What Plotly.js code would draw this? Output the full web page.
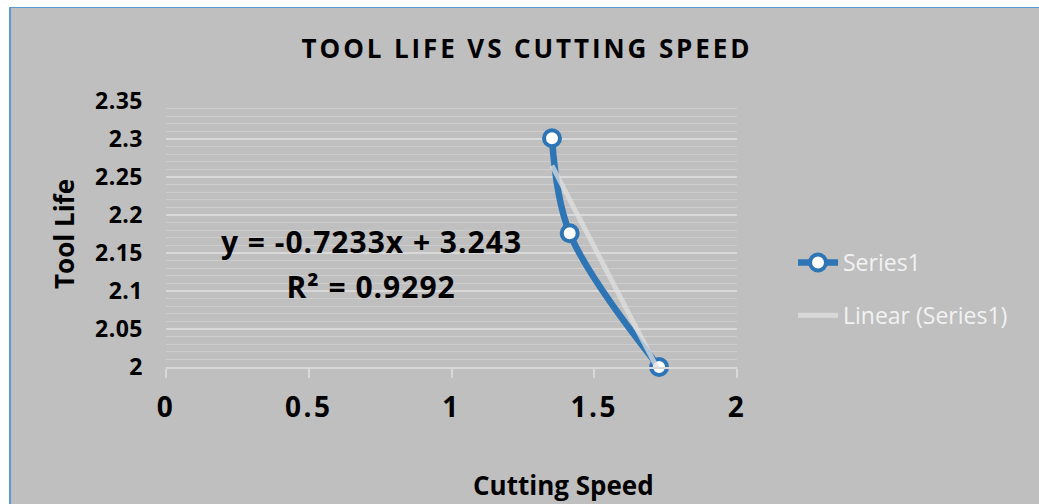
<!DOCTYPE html>
<html>
<head>
<meta charset="utf-8">
<script src="https://cdn.plot.ly/plotly-3.0.1.min.js"></script>
<style>
  html, body { margin:0; padding:0; background:#ffffff; width:1039px; height:504px; overflow:hidden; }
  #bg { position:absolute; left:9px; top:7px; width:1028px; height:497px; background:#bfbfbf;
        border-left:2px solid #5b9bd5; border-top:1px solid #5b9bd5; }
  #chart { position:absolute; left:0; top:0; width:1039px; height:504px; }
  .gtitle { letter-spacing: 2.9px; }
  .xtick text { letter-spacing: 2.5px; }
  .ytick text { letter-spacing: 0.5px; }
  .annotation-text.eq { letter-spacing: 1px; }
</style>
</head>
<body>
<div id="bg"></div>
<div id="chart"></div>
<script>
// ---- data ----
const cuttingSpeed = [1.352, 1.414, 1.727];
const toolLife     = [2.301, 2.176, 2.000];
const trendSlope = -0.7233;
const trendIntercept = 3.243;
const rSquared = 0.9292;
const xTickVals = [0, 0.5, 1, 1.5, 2];
const xTickText = ['0', '0.5', '1', '1.5', '2'];
const yTickVals = [2, 2.05, 2.1, 2.15, 2.2, 2.25, 2.3, 2.35];
const yTickText = ['2', '2.05', '2.1', '2.15', '2.2', '2.25', '2.3', '2.35'];

// trendline across the data's x extent
const trendX = [Math.min(...cuttingSpeed), Math.max(...cuttingSpeed)];
const trendY = trendX.map(v => trendSlope * v + trendIntercept);

const FONT = 'Open Sans';
const blue = '#2e75b6';

const traces = [
  {
    x: cuttingSpeed, y: toolLife, name: 'Series1', type: 'scatter',
    mode: 'lines+markers', legendgroup: 'a', cliponaxis: false,
    line: { color: blue, width: 6.5, shape: 'spline', smoothing: 1 },
    marker: { size: 16, color: '#ffffff', line: { color: blue, width: 4 } }
  },
  {
    x: trendX, y: trendY, name: 'Linear (Series1)', type: 'scatter',
    mode: 'lines', legendgroup: 'b', opacity: 0.75, cliponaxis: false,
    line: { color: '#e0e0e0', width: 5 }
  }
];

// helper for pixel -> paper coords
const L = 166, R = 737, T = 101, B = 367;
const px = v => (v - L) / (R - L);
const py = v => (B - v) / (B - T);

const layout = {
  width: 1039, height: 504,
  margin: { l: L, r: 1039 - R, t: T, b: 504 - B, pad: 0 },
  paper_bgcolor: 'rgba(0,0,0,0)',
  plot_bgcolor: 'rgba(0,0,0,0)',
  font: { family: FONT, color: '#000000' },
  title: {
    text: 'TOOL LIFE VS CUTTING SPEED',
    font: { family: FONT, size: 26, weight: 'bold', color: '#000000' },
    xref: 'container', yref: 'container',
    x: 527 / 1039, y: 1 - 49 / 504, xanchor: 'center', yanchor: 'middle'
  },
  xaxis: {
    range: [0, 2], tickvals: xTickVals, ticktext: xTickText,
    showgrid: false, zeroline: false,
    showline: true, linecolor: '#d9d9d9', linewidth: 2,
    ticks: 'outside', ticklen: 9, tickwidth: 2, tickcolor: '#d9d9d9',
    ticklabelstandoff: 5,
    tickfont: { family: FONT, size: 28, weight: 'bold', color: '#000000' },
    fixedrange: true
  },
  yaxis: {
    range: [2, 2.35], tickvals: yTickVals, ticktext: yTickText,
    showgrid: true, gridcolor: '#d9d9d9', gridwidth: 2,
    zeroline: false, showline: false, ticks: '',
    ticklabelstandoff: 22,
    tickfont: { family: FONT, size: 23, weight: 'bold', color: '#000000' },
    minor: { dtick: 0.01, showgrid: true, gridcolor: 'rgba(222,222,222,0.45)', gridwidth: 1 },
    fixedrange: true
  },
  showlegend: true,
  legend: {
    x: px(793), y: py(289), xanchor: 'left', yanchor: 'middle',
    bgcolor: 'rgba(0,0,0,0)', borderwidth: 0,
    font: { family: FONT, size: 23, color: '#f2f2f2' },
    tracegroupgap: 20, itemwidth: 40
  },
  annotations: [
    { text: 'y = -0.7233x + 3.243', xref: 'paper', yref: 'paper',
      x: px(371), y: py(241), xanchor: 'center', yanchor: 'middle', showarrow: false,
      font: { family: FONT, size: 30, weight: 'bold', color: '#000000' } },
    { text: 'R² = ' + rSquared.toFixed(4), xref: 'paper', yref: 'paper',
      x: px(371), y: py(286), xanchor: 'center', yanchor: 'middle', showarrow: false,
      font: { family: FONT, size: 30, weight: 'bold', color: '#000000' } },
    { text: 'Tool Life', xref: 'paper', yref: 'paper', textangle: -90,
      x: px(64), y: py(234), xanchor: 'center', yanchor: 'middle', showarrow: false,
      font: { family: FONT, size: 26, weight: 'bold', color: '#000000' } },
    { text: 'Cutting Speed', xref: 'paper', yref: 'paper',
      x: px(563), y: py(485), xanchor: 'center', yanchor: 'middle', showarrow: false,
      font: { family: FONT, size: 26, weight: 'bold', color: '#000000' } }
  ]
};

Plotly.newPlot('chart', traces, layout, { displayModeBar: false, staticPlot: true }).then(() => {
  document.querySelectorAll('.annotation-text').forEach((t, i) => { if (i < 2) t.classList.add('eq'); });
});
</script>
</body>
</html>
